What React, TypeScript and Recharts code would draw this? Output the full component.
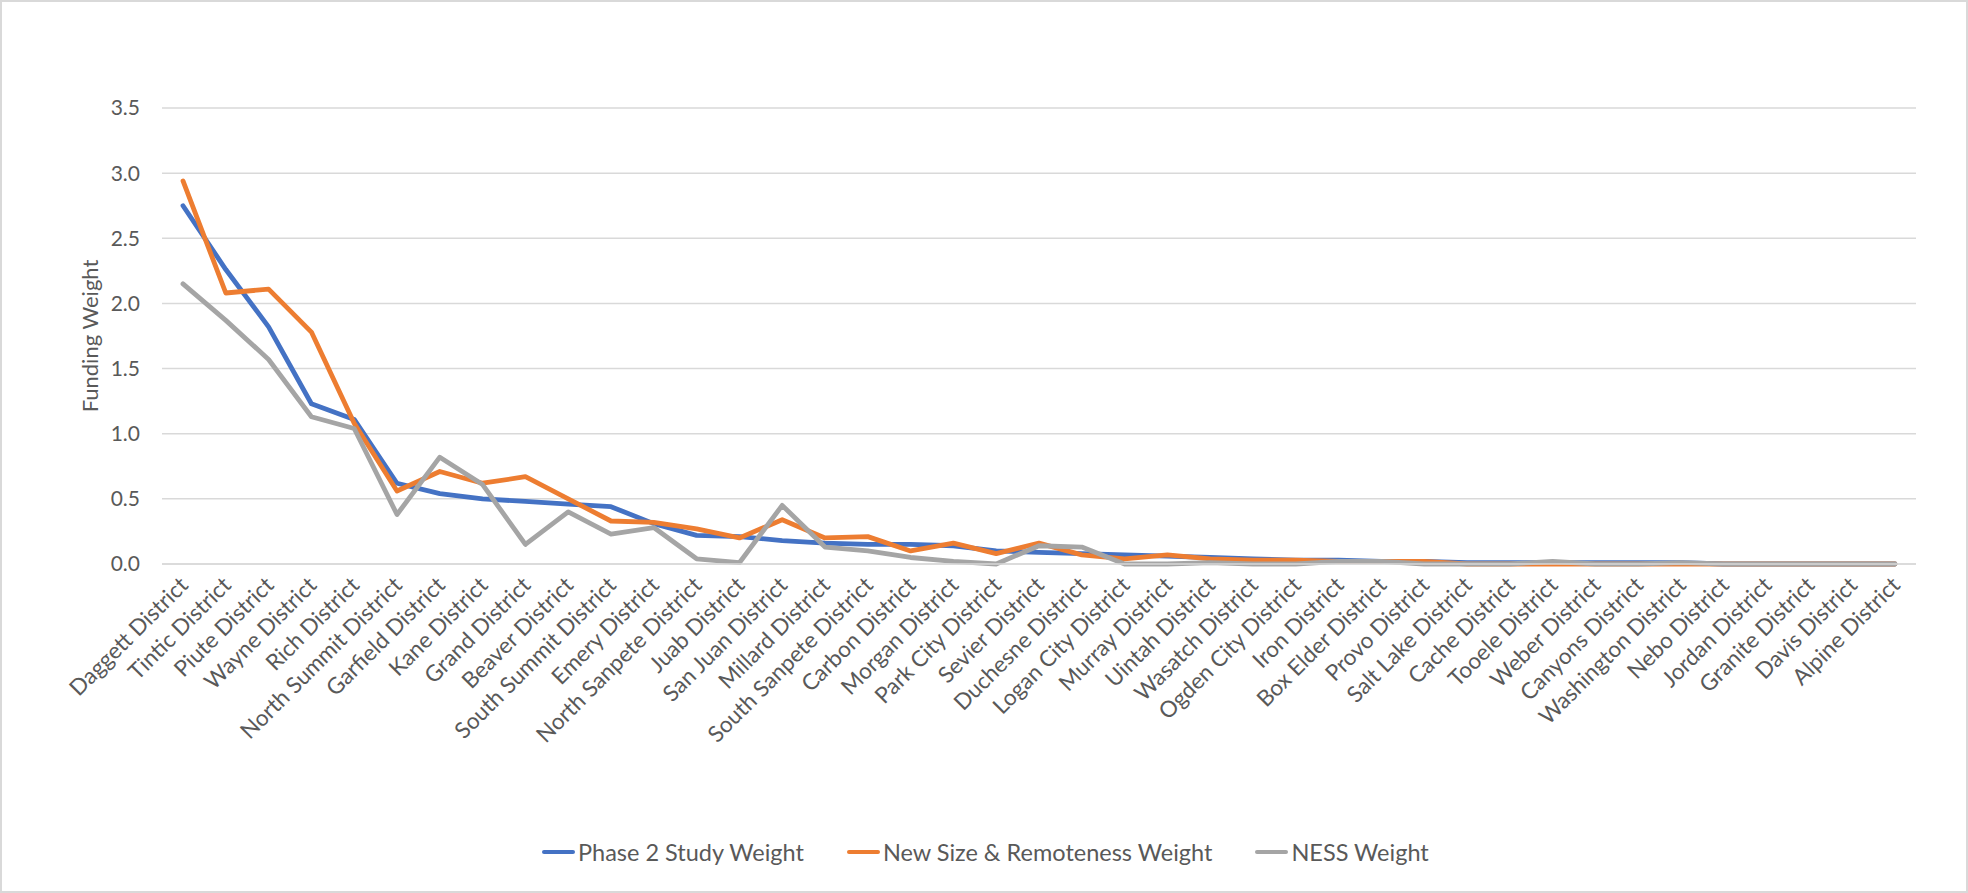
import { LineChart, Line, XAxis, YAxis, CartesianGrid, Label } from "recharts";

const districts = [
    "Daggett District", "Tintic District", "Piute District", "Wayne District", "Rich District",
    "North Summit District", "Garfield District", "Kane District", "Grand District", "Beaver District",
    "South Summit District", "Emery District", "North Sanpete District", "Juab District", "San Juan District",
    "Millard District", "South Sanpete District", "Carbon District", "Morgan District", "Park City District",
    "Sevier District", "Duchesne District", "Logan City District", "Murray District", "Uintah District",
    "Wasatch District", "Ogden City District", "Iron District", "Box Elder District", "Provo District",
    "Salt Lake District", "Cache District", "Tooele District", "Weber District", "Canyons District",
    "Washington District", "Nebo District", "Jordan District", "Granite District", "Davis District",
    "Alpine District",
];

const phase2Weight = [
    2.75, 2.26, 1.82, 1.23, 1.11, 0.62, 0.54, 0.5, 0.48, 0.46,
    0.44, 0.31, 0.22, 0.21, 0.18, 0.16, 0.15, 0.15, 0.14, 0.1,
    0.09, 0.08, 0.07, 0.06, 0.05, 0.04, 0.03, 0.03, 0.02, 0.02,
    0.01, 0.01, 0.01, 0.01, 0.01, 0.01, 0.0, 0.0, 0.0, 0.0,
    0.0,
];

const newSizeWeight = [
    2.94, 2.08, 2.11, 1.78, 1.08, 0.56, 0.71, 0.62, 0.67, 0.5,
    0.33, 0.32, 0.27, 0.2, 0.34, 0.2, 0.21, 0.1, 0.16, 0.08,
    0.16, 0.07, 0.04, 0.07, 0.04, 0.03, 0.03, 0.02, 0.02, 0.02,
    0.0, 0.0, 0.0, 0.0, 0.0, 0.0, 0.0, 0.0, 0.0, 0.0,
    0.0,
];

const nessWeight = [
    2.15, 1.87, 1.57, 1.13, 1.04, 0.38, 0.82, 0.61, 0.15, 0.4,
    0.23, 0.28, 0.04, 0.01, 0.45, 0.13, 0.1, 0.05, 0.02, 0.0,
    0.14, 0.13, 0.0, 0.0, 0.01, 0.0, 0.0, 0.02, 0.02, 0.0,
    0.0, 0.0, 0.02, 0.0, 0.0, 0.01, 0.0, 0.0, 0.0, 0.0,
    0.0,
];

const yTicks = [0, 0.5, 1, 1.5, 2, 2.5, 3, 3.5];

const series = [
    { key: "phase2", name: "Phase 2 Study Weight", color: "#4472C4" },
    { key: "newSize", name: "New Size & Remoteness Weight", color: "#ED7D31" },
    { key: "ness", name: "NESS Weight", color: "#A5A5A5" },
];

const data = districts.map((district, i) => ({
    district,
    phase2: phase2Weight[i],
    newSize: newSizeWeight[i],
    ness: nessWeight[i],
}));

const FONT = "Lato, 'Open Sans', sans-serif";

// rotated category labels, like excel's -45deg
function DistrictTick({ x, y, payload }: any) {
    const ax = x + 1;
    const ay = y + 9;
    return (
        <text
            x={ax}
            y={ay}
            transform={`rotate(-45, ${ax}, ${ay})`}
            textAnchor="end"
            dy="0.35em"
            fill="#595959"
            fontSize={22.5}
            fontFamily={FONT}
        >
            {payload.value}
        </text>
    );
}

export default function App() {
    return (
        <div style={{ position: "absolute", left: 0, top: 0, width: 1968, height: 893, background: "#fff" }}>
            <LineChart
                width={1968}
                height={893}
                data={data}
                margin={{ top: 108, right: 52, left: 0, bottom: 0 }}
            >
                <CartesianGrid vertical={false} stroke="#D9D9D9" strokeWidth={1.5} />
                <XAxis
                    dataKey="district"
                    interval={0}
                    tickLine={false}
                    axisLine={{ stroke: "#D9D9D9", strokeWidth: 1.5 }}
                    height={329}
                    padding={{ left: 21, right: 21 }}
                    tick={<DistrictTick />}
                />
                <YAxis
                    domain={[0, 3.5]}
                    ticks={yTicks}
                    width={162}
                    tickLine={false}
                    axisLine={false}
                    tickSize={0}
                    tickMargin={22}
                    tickFormatter={(v: number) => v.toFixed(1)}
                    tick={{ fill: "#595959", fontSize: 21, fontFamily: FONT }}
                >
                    <Label
                        value="Funding Weight"
                        angle={-90}
                        position="insideLeft"
                        offset={0}
                        dx={90}
                        style={{ fill: "#595959", fontSize: 22, fontFamily: FONT, textAnchor: "middle" }}
                    />
                </YAxis>
                {series.map((s) => (
                    <Line
                        key={s.key}
                        dataKey={s.key}
                        name={s.name}
                        stroke={s.color}
                        strokeWidth={4.8}
                        strokeLinejoin="round"
                        strokeLinecap="round"
                        dot={false}
                        activeDot={false}
                        isAnimationActive={false}
                    />
                ))}
            </LineChart>

            {/* legend */}
            <div
                style={{
                    position: "absolute",
                    left: 542,
                    top: 838,
                    display: "flex",
                    gap: 43,
                    fontFamily: FONT,
                    fontSize: 23.5,
                    color: "#595959",
                    whiteSpace: "nowrap",
                }}
            >
                {series.map((s) => (
                    <div key={s.key} style={{ display: "flex", alignItems: "center", gap: 3 }}>
                        <span
                            style={{
                                display: "inline-block",
                                width: 33,
                                height: 4.8,
                                borderRadius: 2.4,
                                background: s.color,
                            }}
                        />
                        <span>{s.name}</span>
                    </div>
                ))}
            </div>

            <div
                style={{
                    position: "absolute",
                    inset: 0,
                    border: "2px solid #D9D9D9",
                    boxSizing: "border-box",
                    pointerEvents: "none",
                }}
            />
        </div>
    );
}
